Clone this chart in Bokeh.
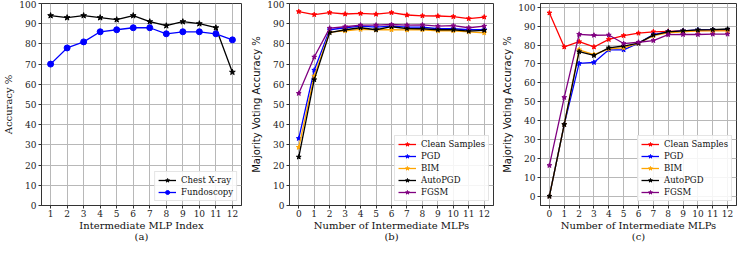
from bokeh.plotting import figure
from bokeh.layouts import row
from bokeh.models import Range1d, FixedTicker, Legend, LegendItem
from bokeh.embed import file_html
from bokeh.resources import INLINE

# ---- data ----
mlp_index = [1, 2, 3, 4, 5, 6, 7, 8, 9, 10, 11, 12]
chest_xray = [94, 93, 94, 93, 92, 94, 91, 89, 91, 90, 88, 66]
fundoscopy = [70, 78, 81, 86, 87, 88, 88, 85, 86, 86, 85, 82]

n_mlps = [0, 1, 2, 3, 4, 5, 6, 7, 8, 9, 10, 11, 12]
b_clean = [96, 94.5, 95.5, 94.8, 95.1, 94.7, 95.5, 94.3, 93.9, 93.8, 93.5, 92.5, 93.3]
b_pgd = [33.2, 67, 87, 88, 88.8, 88.3, 88.8, 88.3, 88.3, 87.5, 87.5, 87, 87]
b_bim = [28.8, 64, 85.8, 86.5, 87.2, 87, 87, 86.9, 87, 86.5, 86.5, 86, 85.5]
b_autopgd = [24, 62.3, 85.6, 87, 88, 87, 88.5, 87.6, 87.5, 87, 87, 86.3, 86.7]
b_fgsm = [55.5, 73.5, 87.8, 88.5, 89.3, 89.3, 89.6, 89.3, 89.4, 88.8, 89, 88, 88.8]

c_clean = [97, 79, 81.8, 79, 83, 85, 86.3, 87, 87.3, 87.5, 87.7, 87.8, 87.8]
c_pgd = [0, 38, 70.3, 70.8, 77.5, 77.5, 81, 85.5, 87, 87.5, 88, 88, 88.2]
c_bim = [0, 38, 77.5, 75, 78, 78.5, 81, 85, 86.5, 87, 87.5, 87.5, 87.5]
c_autopgd = [0, 38, 76.5, 74.5, 78.5, 79.5, 81, 85.3, 87, 87.5, 88, 88.2, 88.5]
c_fgsm = [16.3, 52.3, 85.7, 85.2, 85.3, 80.8, 81.5, 82.4, 85.5, 85.6, 85.6, 85.8, 85.8]

series_names = ["Clean Samples", "PGD", "BIM", "AutoPGD", "FGSM"]
series_colors = ["red", "blue", "orange", "black", "purple"]
y_ticks = [0, 10, 20, 30, 40, 50, 60, 70, 80, 90, 100]

SERIF = "DejaVu Serif"
SANS = "DejaVu Sans"


def make_fig(fw, xr, yr, xticks, xlabel, ylabel, ylabel_font, bl, br):
    p = figure(frame_width=fw, frame_height=202, output_backend="svg", toolbar_location=None,
               x_range=Range1d(*xr), y_range=Range1d(*yr),
               min_border_left=bl, min_border_right=br, min_border_top=3, min_border_bottom=0)
    p.xaxis.ticker = FixedTicker(ticks=xticks)
    p.yaxis.ticker = FixedTicker(ticks=y_ticks)
    for ax in (p.xaxis[0], p.yaxis[0]):
        ax.major_label_text_font = SERIF
        ax.major_label_text_font_size = "9px"
        ax.major_label_text_color = "#222222"
        ax.major_tick_out = 3
        ax.major_tick_in = 0
        ax.minor_tick_out = 0
        ax.minor_tick_in = 0
        ax.axis_line_color = "#333333"
        ax.major_tick_line_color = "#333333"
        ax.axis_label_text_font_style = "normal"
        ax.axis_label_text_color = "#111111"
        ax.axis_label_text_font_size = "10px"
    p.xaxis.major_label_standoff = 1
    p.xaxis.axis_label_standoff = 0
    p.yaxis.major_label_standoff = 2
    p.yaxis.axis_label_standoff = 2
    p.xaxis.axis_label = xlabel
    p.xaxis.axis_label_text_font = SERIF
    p.xaxis.axis_label_text_line_height = 1.0
    p.yaxis.axis_label = ylabel
    p.yaxis.axis_label_text_font = ylabel_font
    p.outline_line_color = "#333333"
    p.outline_line_alpha = 1
    p.xgrid.grid_line_color = "#b8b8b8"
    p.ygrid.grid_line_color = "#b8b8b8"
    p.xgrid.grid_line_width = 1
    p.ygrid.grid_line_width = 1
    return p


def style_legend(p, items):
    leg = Legend(items=items, location="bottom_right")
    leg.label_text_font = SERIF
    leg.label_text_font_size = "8.5px"
    leg.label_text_color = "#111111"
    leg.glyph_width = 18
    leg.glyph_height = 10
    leg.label_height = 10
    leg.label_standoff = 5
    leg.spacing = 2
    leg.padding = 3
    leg.margin = 4
    leg.border_line_color = "#cccccc"
    leg.background_fill_alpha = 0.85
    p.add_layout(leg)


# ---- panel (a) ----
pa = make_fig(200, (0.45, 12.55), (0, 100), mlp_index, "Intermediate MLP Index\n(a)",
              "Accuracy %", SERIF, 34, 7)
la = pa.line(mlp_index, chest_xray, color="black", line_width=1.3)
sa = pa.scatter(mlp_index, chest_xray, marker="star", size=6, color="black")
lb = pa.line(mlp_index, fundoscopy, color="blue", line_width=1.3)
sb = pa.scatter(mlp_index, fundoscopy, marker="circle", size=6, color="blue")
style_legend(pa, [LegendItem(label="Chest X-ray", renderers=[la, sa]),
                  LegendItem(label="Fundoscopy", renderers=[lb, sb])])


def multi_panel(fw, yr, data, sub, bl, br):
    p = make_fig(fw, (-0.6, 12.6), yr, n_mlps, "Number of Intermediate MLPs\n" + sub,
                 "Majority Voting Accuracy %", SANS, bl, br)
    items = []
    for name, col, ys in zip(series_names, series_colors, data):
        l = p.line(n_mlps, ys, color=col, line_width=1.3)
        s = p.scatter(n_mlps, ys, marker="star", size=5, color=col)
        items.append(LegendItem(label=name, renderers=[l, s]))
    style_legend(p, items)
    return p


pb = multi_panel(204, (0, 100), [b_clean, b_pgd, b_bim, b_autopgd, b_fgsm], "(b)", 40, 6)
pc = multi_panel(196, (-4.9, 102), [c_clean, c_pgd, c_bim, c_autopgd, c_fgsm], "(c)", 40, 3)

layout = row(pa, pb, pc)
open("out.html", "w").write(file_html(layout, INLINE))
